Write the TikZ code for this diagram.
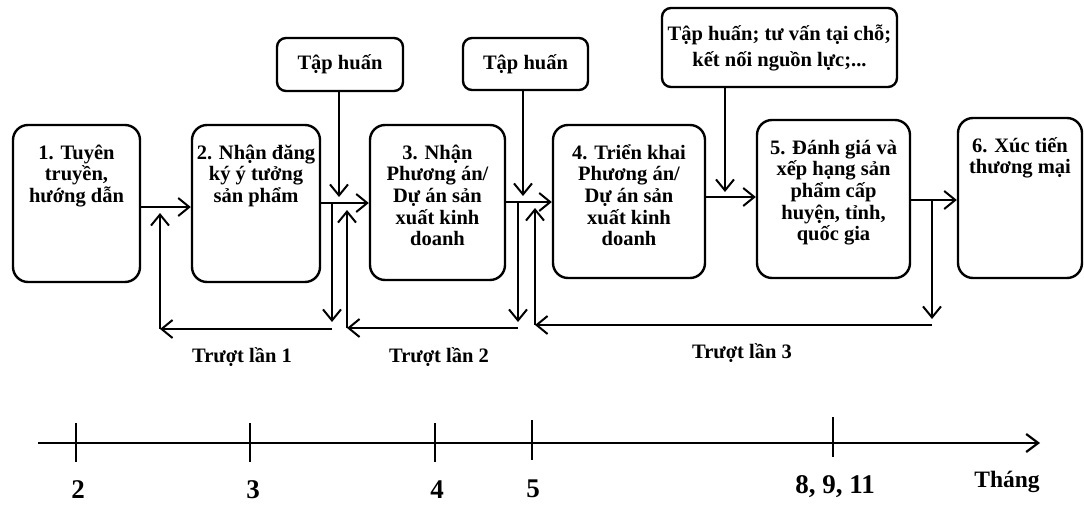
\documentclass[tikz,border=0pt]{standalone}
\usepackage{fontspec}
\setmainfont{Liberation Serif}
\usetikzlibrary{arrows.meta}
\newcommand{\mytopbox}[3]{\parbox[c][#1][t]{#2}{\centering\vspace*{15pt}\rule{0pt}{19pt}#3}}
\begin{document}
\begin{tikzpicture}[x=1pt,y=-1pt,
  bx/.style={draw, line width=2.4pt, rounded corners=15pt, inner sep=0pt,
    font=\fontsize{20.5}{21.7}\selectfont\bfseries},
  tbx/.style={draw, line width=2.4pt, rounded corners=9pt, inner sep=0pt, align=center,
    font=\fontsize{20.5}{26}\selectfont\bfseries},
  arr/.style={line width=2pt, -{Straight Barb[length=11pt,width=18pt,line width=2pt]}},
  ln/.style={line width=2pt},
  lbl/.style={font=\fontsize{20.5}{22}\selectfont\bfseries},
  num/.style={font=\fontsize{27}{28}\selectfont\bfseries, inner sep=1pt},
]
\useasboundingbox (0,0) rectangle (1084,506);

% main boxes
\node[bx] (b1) at (76.5,203.5) {\mytopbox{157pt}{127pt}{1. Tuyên\\truyền,\\hướng dẫn}};
\node[bx] (b2) at (256,203.5) {\mytopbox{157pt}{128pt}{2. Nhận đăng\\ký ý tưởng\\sản phẩm}};
\node[bx] (b3) at (437.5,202.5) {\mytopbox{155pt}{135pt}{3. Nhận\\Phương án/\\Dự án sản\\xuất kinh\\doanh}};
\node[bx] (b4) at (629,201.5) {\mytopbox{153pt}{152pt}{4. Triển khai\\Phương án/\\Dự án sản\\xuất kinh\\doanh}};
\node[bx] (b5) at (833.5,199) {\mytopbox{158pt}{153pt}{5. Đánh giá và\\xếp hạng sản\\phẩm cấp\\huyện, tỉnh,\\quốc gia}};
\node[bx] (b6) at (1020,198) {\mytopbox{160pt}{124pt}{6. Xúc tiến\\thương mại}};

% top boxes
\node[tbx, minimum width=126pt, minimum height=53pt] (t1) at (340,64.5) {Tập huấn};
\node[tbx, minimum width=125pt, minimum height=52pt] (t2) at (525.5,64) {Tập huấn};
\node[tbx, minimum width=235pt, minimum height=79pt] (t3) at (779.5,47.5) {Tập huấn; tư vấn tại chỗ;\\kết nối nguồn lực;...};

% junction coordinates
\coordinate (j1) at (160,207);
\coordinate (j2) at (347,203);
\coordinate (j3) at (535,202);
\coordinate (j4) at (725,197);
\coordinate (j5) at (932,200);

% forward arrows
\draw[arr] (b1.east |- j1) -- (b2.west |- j1);
\draw[arr] (b2.east |- j2) -- (b3.west |- j2);
\draw[arr] (b3.east |- j3) -- (b4.west |- j3);
\draw[arr] (b4.east |- j4) -- (b5.west |- j4);
\draw[arr] (b5.east |- j5) -- (b6.west |- j5);

% support arrows from top boxes
\coordinate (k1) at (339,197);
\coordinate (k2) at (523,196);
\coordinate (k3) at (725,192);
\draw[arr] (t1.south -| k1) -- (k1);
\draw[arr] (t2.south -| k2) -- (k2);
\draw[arr] (t3.south -| k3) -- (k3);

% loop 1
\coordinate (d1s) at (332,203);
\coordinate (d1e) at (332,322);
\coordinate (h1s) at (332,329);
\coordinate (c1) at (160,329);
\coordinate (u1) at (160,213);
\draw[arr] (d1s) -- (d1e);
\draw[arr] (h1s) -- (c1);
\draw[arr] (c1) -- (u1);

% loop 2
\coordinate (d2s) at (518,202);
\coordinate (d2e) at (518,322);
\coordinate (h2s) at (518,328);
\coordinate (c2) at (347,328);
\coordinate (u2) at (347,210);
\draw[arr] (d2s) -- (d2e);
\draw[arr] (h2s) -- (c2);
\draw[arr] (c2) -- (u2);

% loop 3
\coordinate (d3s) at (932,200);
\coordinate (d3e) at (932,319);
\coordinate (h3s) at (932,325);
\coordinate (c3) at (535,325);
\coordinate (u3) at (535,208);
\draw[arr] (d3s) -- (d3e);
\draw[arr] (h3s) -- (c3);
\draw[arr] (c3) -- (u3);

\node[lbl] (l1) at (242,357) {Trượt lần 1};
\node[lbl] (l2) at (439,357) {Trượt lần 2};
\node[lbl] (l3) at (742,353) {Trượt lần 3};

% timeline
\coordinate (ta) at (38,443);
\coordinate (tb) at (1040,443);
\draw[line width=2.4pt, -{Straight Barb[length=12pt,width=18pt,line width=2.2pt]}] (ta) -- (tb);
\draw[ln] (76,423) -- (76,462);
\draw[ln] (250,423) -- (250,462);
\draw[ln] (435,423) -- (435,462);
\draw[ln] (532,420) -- (532,460);
\draw[ln] (833,417) -- (833,457);

\node[num] (n2) at (78,490) {2};
\node[num] (n3) at (253,490) {3};
\node[num] (n4) at (437,490) {4};
\node[num] (n5) at (533,489) {5};
\node[num] (n8) at (835,487) {8, 9, 11};
\node[font=\fontsize{23.5}{25}\selectfont\bfseries] (th) at (1007,482) {Tháng};
\end{tikzpicture}
\end{document}
